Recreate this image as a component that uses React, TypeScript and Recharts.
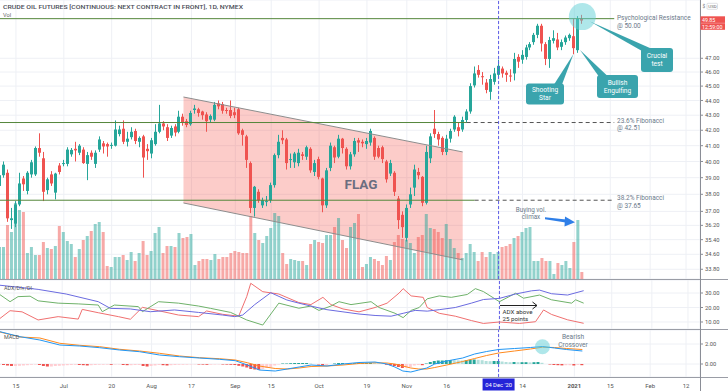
import React from 'react';
import {
  ComposedChart, Bar, Line, Area, XAxis, YAxis, CartesianGrid,
  ReferenceLine, ReferenceDot, Cell,
} from 'recharts';

// ---------- categories (trading days, incl. empty future slots) ----------
const DATES: string[] = [
  '2020-06-09','2020-06-10','2020-06-11','2020-06-12','2020-06-15','2020-06-16','2020-06-17','2020-06-18','2020-06-19','2020-06-22',
  '2020-06-23','2020-06-24','2020-06-25','2020-06-26','2020-06-29','2020-06-30','2020-07-01','2020-07-02','2020-07-06','2020-07-07',
  '2020-07-08','2020-07-09','2020-07-10','2020-07-13','2020-07-14','2020-07-15','2020-07-16','2020-07-17','2020-07-20','2020-07-21',
  '2020-07-22','2020-07-23','2020-07-24','2020-07-27','2020-07-28','2020-07-29','2020-07-30','2020-07-31','2020-08-03','2020-08-04',
  '2020-08-05','2020-08-06','2020-08-07','2020-08-10','2020-08-11','2020-08-12','2020-08-13','2020-08-14','2020-08-17','2020-08-18',
  '2020-08-19','2020-08-20','2020-08-21','2020-08-24','2020-08-25','2020-08-26','2020-08-27','2020-08-28','2020-08-31','2020-09-01',
  '2020-09-02','2020-09-03','2020-09-04','2020-09-08','2020-09-09','2020-09-10','2020-09-11','2020-09-14','2020-09-15','2020-09-16',
  '2020-09-17','2020-09-18','2020-09-21','2020-09-22','2020-09-23','2020-09-24','2020-09-25','2020-09-28','2020-09-29','2020-09-30',
  '2020-10-01','2020-10-02','2020-10-05','2020-10-06','2020-10-07','2020-10-08','2020-10-09','2020-10-12','2020-10-13','2020-10-14',
  '2020-10-15','2020-10-16','2020-10-19','2020-10-20','2020-10-21','2020-10-22','2020-10-23','2020-10-26','2020-10-27','2020-10-28',
  '2020-10-29','2020-10-30','2020-11-02','2020-11-03','2020-11-04','2020-11-05','2020-11-06','2020-11-09','2020-11-10','2020-11-11',
  '2020-11-12','2020-11-13','2020-11-16','2020-11-17','2020-11-18','2020-11-19','2020-11-20','2020-11-23','2020-11-24','2020-11-25',
  '2020-11-27','2020-11-30','2020-12-01','2020-12-02','2020-12-03','2020-12-04','2020-12-07','2020-12-08','2020-12-09','2020-12-10',
  '2020-12-11','2020-12-14','2020-12-15','2020-12-16','2020-12-17','2020-12-18','2020-12-21','2020-12-22','2020-12-23','2020-12-24',
  '2020-12-28','2020-12-29','2020-12-30','2020-12-31','2021-01-04','2021-01-05','2021-01-06','2021-01-07','2021-01-08','2021-01-11',
  '2021-01-12','2021-01-13','2021-01-14','2021-01-15','2021-01-19','2021-01-20','2021-01-21','2021-01-22','2021-01-25','2021-01-26',
  '2021-01-27','2021-01-28','2021-01-29','2021-02-01','2021-02-02','2021-02-03','2021-02-04','2021-02-05','2021-02-08','2021-02-09',
  '2021-02-10','2021-02-11','2021-02-12','2021-02-16','2021-02-17','2021-02-18',
];

// ---------- OHLC ----------
const OPEN = [
  38.5,39.15,39.3,36.5,36.3,37.4,38.95,38.2,39.2,39.2,
  40.85,40.2,38.25,39.2,38.1,39.75,39.85,39.85,40.45,40.8,
  40.55,40.75,39.85,40.55,39.85,40.75,41.15,41.1,41.0,41.0,
  41.75,42.1,41.25,41.55,41.95,41.25,41.6,40.8,40.5,41.1,
  41.9,42.45,42.2,41.65,42.25,41.9,42.9,42.6,42.4,43.35,
  43.4,43.25,43.05,42.7,42.7,43.8,43.75,43.35,43.35,43.2,
  43.4,42.0,41.6,39.9,37.2,38.15,37.35,37.55,37.65,38.55,
  40.4,41.5,41.4,40.1,39.95,39.9,40.45,40.3,40.8,39.35,
  40.15,38.95,37.35,39.6,40.9,40.3,41.45,40.8,39.7,40.45,
  41.35,41.25,41.1,41.2,41.5,40.85,40.9,40.0,39.25,39.3,
  37.75,36.8,35.5,37.4,38.4,39.35,39.05,37.5,40.2,42.1,
  41.75,41.5,40.6,41.45,42.05,42.2,42.05,42.68,43.25,45.05,
  46.15,45.7,45.25,44.6,45.3,45.8,46.25,45.95,45.75,45.9,
  47.1,46.9,47.1,47.8,48.2,48.75,49.45,48.05,46.95,48.3,
  48.4,47.85,48.2,48.5,48.65,47.6,50.0,
];
const HIGH = [
  39.3,40.0,39.5,37.2,37.6,39.3,39.1,39.4,40.1,40.95,
  41.8,40.6,39.0,39.4,39.3,39.9,40.1,40.9,40.85,41.25,
  41.1,40.9,40.6,40.7,40.7,41.6,41.3,41.2,41.2,42.65,
  42.3,42.65,41.9,42.2,42.1,41.6,41.7,41.1,41.5,42.4,
  43.7,42.6,42.4,42.3,42.4,43.3,43.1,42.75,43.3,43.7,
  43.5,43.3,43.2,43.05,43.9,44.0,43.9,43.5,44.0,43.5,
  43.5,42.1,41.7,40.0,38.5,38.3,37.8,37.9,38.7,40.5,
  41.7,42.0,41.5,40.5,40.6,40.8,40.6,41.0,40.9,40.1,
  40.3,39.0,39.6,41.2,41.0,41.7,41.5,40.9,40.6,41.5,
  41.5,41.4,41.5,42.1,41.6,41.0,41.0,40.1,40.1,39.4,
  37.9,37.0,37.4,38.4,39.8,39.6,39.1,41.0,41.8,43.35,
  41.9,41.6,41.7,42.1,43.0,42.5,42.9,43.4,45.2,46.4,
  46.5,46.0,45.5,45.8,46.3,46.9,46.4,46.1,46.2,47.4,
  47.3,47.6,48.0,48.2,48.9,49.6,49.6,48.2,48.6,49.1,
  48.9,48.4,48.7,48.85,50.0,50.2,50.3,
];
const LOW = [
  38.3,39.0,36.4,36.0,36.1,37.3,38.2,38.0,39.0,39.1,
  40.3,37.6,38.0,38.5,37.7,39.2,39.7,39.7,40.3,40.0,
  40.4,39.85,38.85,40.1,39.6,40.6,40.5,40.3,40.8,40.95,
  41.6,41.1,40.95,41.4,41.1,40.9,39.0,40.1,40.2,41.0,
  41.8,42.0,41.3,41.5,41.6,41.8,42.3,42.2,42.3,43.1,
  42.9,42.7,41.9,42.5,42.6,43.4,43.1,43.1,42.8,42.8,
  41.7,41.0,39.6,36.9,36.7,37.5,37.2,37.3,37.5,38.4,
  40.2,41.1,39.5,39.6,39.6,39.7,40.1,40.1,39.3,39.1,
  38.9,36.95,37.2,39.4,39.9,40.2,40.5,39.5,39.5,40.3,
  40.6,40.9,40.8,41.0,40.1,40.2,39.9,38.7,39.1,37.9,
  36.0,35.5,35.3,37.2,37.9,38.9,37.3,37.4,39.9,41.5,
  41.0,40.4,40.4,41.2,41.9,41.6,41.9,42.5,43.1,44.9,
  45.6,45.1,44.5,44.05,45.1,45.6,45.6,45.3,45.3,45.4,
  46.3,46.6,46.9,47.6,48.0,48.5,47.5,46.5,46.3,48.1,
  47.6,47.6,48.0,48.3,47.3,47.4,49.6,
];
const CLOSE = [
  39.15,39.8,36.6,36.6,37.4,38.65,38.6,39.3,39.95,40.85,
  40.55,38.15,38.9,38.65,39.25,39.35,39.9,40.75,40.73,40.7,
  41.0,39.9,40.4,40.3,40.55,41.4,40.95,40.95,41.05,42.05,
  42.05,41.25,41.45,41.9,41.3,41.5,40.25,40.65,41.35,41.9,
  42.45,42.25,41.5,42.15,41.85,42.9,42.5,42.35,43.15,43.45,
  43.15,43.0,42.6,42.95,43.7,43.6,43.3,43.3,42.95,43.0,
  41.8,41.7,40.1,37.2,38.45,37.65,37.65,37.6,38.55,40.4,
  41.25,41.35,39.9,40.15,40.5,40.55,40.35,40.9,39.45,39.9,
  39.05,37.35,39.45,41.0,40.25,41.45,40.85,39.7,40.45,41.3,
  41.2,41.15,41.3,41.95,40.3,40.3,40.15,38.9,39.9,38.15,
  36.5,36.1,37.2,38.0,39.5,39.15,37.5,40.6,41.6,41.75,
  41.4,40.6,41.45,41.95,42.9,41.95,42.68,43.25,45.0,45.9,
  45.8,45.65,44.73,45.5,45.9,46.45,45.9,45.8,45.7,46.95,
  46.75,47.25,47.8,48.05,48.75,49.45,48.1,46.95,48.36,48.5,
  47.8,48.2,48.55,48.75,47.75,50.0,49.85,
];
// volume, thousands of contracts
const VOLUME = [
  160,160,270,235,380,345,335,130,160,120,
  120,185,155,150,165,265,235,190,175,110,
  150,195,215,240,275,285,235,65,60,110,
  110,120,95,135,90,130,190,120,140,230,
  260,130,165,165,160,230,205,210,225,70,
  90,100,100,95,125,100,110,110,130,140,
  135,130,130,315,230,195,180,215,255,330,
  315,130,75,100,95,90,90,70,175,195,
  185,180,220,220,260,305,195,155,260,280,
  325,60,75,110,100,90,70,115,95,185,
  220,200,195,180,130,210,220,325,255,250,
  235,205,275,200,155,130,105,130,175,135,
  90,135,110,135,125,135,160,165,175,205,
  215,235,255,260,90,90,105,90,90,25,
  80,70,90,55,185,295,35,
];
const VOL_MAX = 1395;

// ---------- indicators (sampled points: [bar index, value]) ----------
const ADX_PTS: [number, number][] = [
  [0,35.5],[10,32.5],[17,29.3],[25,24],[28,19.4],[33,19],[38,17.1],[44,18.3],[50,16.6],[56,14.8],[59,13.7],[61,14.8],
  [64,22],[68,30.2],[72,25.2],[75,23],[78,21],[82,18.5],[86,17],[90,15.5],[94,14.5],[98,14],[101,16],[104,18],[107,17.5],
  [110,18.5],[114,20],[118,23],[121,25.5],[125,26.3],[129,29.3],[133,31.5],[135,32],[138,29.5],[142,28.6],[146,31.6],
];
const DIP_PTS: [number, number][] = [
  [0,29.8],[3,24],[5,27.5],[8,27.8],[10,24.6],[15,23],[20,22.5],[25,21.7],[26,17.1],[29,21.7],[35,20.6],[36,17.1],
  [40,24],[45,23],[50,21],[53,19.4],[58,16.6],[62,11.4],[66,7.9],[70,23],[75,19.5],[78,21],[80,18],[83,21],[85,24],
  [88,22],[93,24],[95,20],[99,16],[101,13],[103,18],[105,20],[107,26],[110,28],[113,27],[117,29],[119,33],[121,31],
  [125,24],[129,29.8],[131,26.4],[135,28.6],[138,25.3],[143,23],[144,25.3],[146,23],
];
const DIM_PTS: [number, number][] = [
  [0,11.4],[3,17.8],[6,17],[10,11.4],[15,13.7],[20,12],[21,18.7],[25,16.4],[30,13.7],[33,11.9],[36,20.1],[40,17.8],
  [45,14.8],[50,13.7],[52,17.6],[56,15.3],[60,14],[62,27.5],[63,36.7],[66,30.9],[70,29.3],[75,23.4],[78,22],[81,27],
  [83,22],[86,19],[90,17],[94,20],[97,23],[100,30],[101,33],[103,28],[106,27],[107,20],[110,16],[114,14],[118,11],
  [121,9],[125,10],[130,9],[134,10.2],[136,18.3],[138,15.2],[142,11.5],[146,9.1],
];
const MACD_PTS: [number, number][] = [
  [0,3.23],[5,2.73],[10,2.4],[15,1.9],[20,1.8],[25,1.63],[30,1.4],[35,1.23],[40,0.9],[45,0.73],[50,0.6],[55,0.47],
  [59,0.33],[62,-0.1],[65,-0.6],[69,-0.7],[72,-0.5],[75,-0.3],[78,-0.1],[82,-0.2],[86,0.0],[90,0.15],[94,0.2],[97,0.0],
  [99,-0.3],[101,-0.7],[103,-0.8],[105,-0.6],[107,-0.4],[109,0.0],[112,0.3],[116,0.6],[119,1.0],[122,1.25],[125,1.45],
  [129,1.55],[133,1.65],[136,1.75],[139,1.6],[142,1.45],[146,1.3],
];
const SIGNAL_PTS: [number, number][] = [
  [0,3.2],[5,2.7],[10,2.6],[15,2.07],[20,1.87],[25,1.73],[30,1.47],[35,1.3],[40,1.07],[45,0.8],[50,0.63],[55,0.53],
  [59,0.4],[62,0.13],[65,-0.2],[69,-0.45],[72,-0.5],[75,-0.4],[78,-0.25],[82,-0.2],[86,-0.1],[90,0.05],[94,0.12],[97,0.1],
  [99,0.0],[101,-0.2],[103,-0.4],[105,-0.5],[107,-0.5],[109,-0.35],[112,-0.1],[116,0.25],[119,0.55],[122,0.85],[125,1.1],
  [129,1.3],[133,1.5],[136,1.68],[139,1.65],[142,1.55],[146,1.45],
];
const HIST = [
  -0.05,-0.1,-0.15,-0.2,-0.2, -0.18,-0.15,-0.12,-0.08,-0.05, -0.1,-0.2,-0.25,-0.25,-0.2,
  -0.18,-0.15,-0.12,-0.1,-0.08, -0.1,-0.12,-0.15,-0.12,-0.1, -0.08,-0.08,-0.07,-0.08,-0.05,
  -0.05,-0.1,-0.12,-0.12,-0.1, -0.1,-0.2,-0.25,-0.2,-0.15, -0.1,-0.12,-0.15,-0.12,-0.1,
  -0.08,-0.08,-0.07,-0.05,-0.04, -0.05,-0.06,-0.08,-0.07,-0.05, -0.04,-0.05,-0.06,-0.08,-0.1,
  -0.18,-0.25,-0.35,-0.5,-0.55, -0.58,-0.5,-0.4,-0.3,-0.15, -0.05,0.05,0.05,0.08,0.1,
  0.1,0.1,0.1,0.05,0.0, -0.05,-0.15,-0.1,0.0,0.05, 0.1,0.1,0.05,0.05,0.08,
  0.1,0.1,0.1,0.12,0.08, 0.05,0.0,-0.08,-0.12,-0.2, -0.3,-0.4,-0.35,-0.3,-0.15,
  -0.1,-0.12,0.05,0.2,0.3, 0.35,0.35,0.38,0.4,0.38, 0.36,0.35,0.38,0.42,0.45,
  0.42,0.38,0.3,0.28,0.3, 0.3,0.25,0.2,0.18,0.2, 0.18,0.18,0.18,0.16,0.18,
  0.2,0.12,0.0,-0.05,-0.1, -0.12,-0.14,-0.12,-0.12,-0.15,-0.1,-0.12,
];

// ---------- levels, flag, ticks ----------
const LEVELS = [50.0, 42.51, 37.65];
const LEVEL_SOLID_END = [154, 117, 119];
const LEVEL_DASH_END = 154;
const FLAG_IDX = [46, 116];
const FLAG_TOP = [44.24, 40.6];
const FLAG_BOTTOM = [37.49, 34.3];
const CROSS_IDX = 125;
const PRICE_TICKS = [33.8, 34.6, 35.4, 36.2, 37, 38, 39, 40, 41, 42, 43, 44, 45, 46, 47];
const ADX_TICKS = [10, 20, 30];
const MACD_TICKS = [0, 2];
const X_TICKS = ['2020-06-15','2020-07-01','2020-07-20','2020-08-03','2020-08-17','2020-09-01','2020-09-15','2020-10-01',
  '2020-10-19','2020-11-02','2020-11-16','2020-12-04','2020-12-14','2021-01-04','2021-01-15','2021-02-01','2021-02-12'];
const X_TICK_TEXT = ['15','Jul','20','Aug','17','Sep','15','Oct','19','Nov','16',"04 Dec '20",'14','2021','15','Feb','12'];

const UP = '#26a69a';
const DN = '#ef5350';
const FONT = 'Roboto, "Liberation Sans", sans-serif';

const toMap = (pts: [number, number][]) => new Map(pts.map(([i, v]) => [i, v]));
const mAdx = toMap(ADX_PTS), mDip = toMap(DIP_PTS), mDim = toMap(DIM_PTS), mMacd = toMap(MACD_PTS), mSig = toMap(SIGNAL_PTS);

const ROWS = DATES.map((d, i) => {
  const has = i < OPEN.length;
  let flag: number[] | null = null;
  if (i === FLAG_IDX[0]) flag = [FLAG_BOTTOM[0], FLAG_TOP[0]];
  if (i === FLAG_IDX[1]) flag = [FLAG_BOTTOM[1], FLAG_TOP[1]];
  return {
    d,
    hl: has ? [LOW[i], HIGH[i]] : null,
    o: has ? OPEN[i] : null,
    h: has ? HIGH[i] : null,
    l: has ? LOW[i] : null,
    c: has ? CLOSE[i] : null,
    vol: has ? VOLUME[i] : null,
    hist: has ? HIST[i] : null,
    flag,
    adx: mAdx.has(i) ? mAdx.get(i) : null,
    dip: mDip.has(i) ? mDip.get(i) : null,
    dim: mDim.has(i) ? mDim.get(i) : null,
    macd: mMacd.has(i) ? mMacd.get(i) : null,
    sig: mSig.has(i) ? mSig.get(i) : null,
  };
});

const histColor = (i: number) => {
  const v = HIST[i];
  const p = i > 0 ? HIST[i - 1] : v;
  if (v >= 0) return v >= p ? '#26a69a' : '#b2dfdb';
  return v < p ? '#ef5350' : '#ffcdd2';
};

const Candle = (props: any) => {
  const { x, y, width, height, payload } = props;
  if (!payload || payload.o == null) return null;
  const { o, c, h, l } = payload;
  const lh = Math.log(h);
  const ll = Math.log(l);
  const span = lh - ll || 1;
  const py = (p: number) => y + (height * (lh - Math.log(p))) / span;
  const color = c >= o ? UP : DN;
  const cx = Math.round(x + width / 2 - 0.5) + 0.5;
  const top = py(Math.max(o, c));
  const bot = py(Math.min(o, c));
  return (
    <g>
      <line x1={cx} x2={cx} y1={y} y2={y + height} stroke={color} strokeWidth={1} />
      <rect x={cx - 1.5} y={top} width={3} height={Math.max(1, bot - top)} fill={color} />
    </g>
  );
};

const XTick = (props: any) => {
  const { x, y, payload } = props;
  const k = X_TICKS.indexOf(payload.value);
  const label = X_TICK_TEXT[k] ?? '';
  if (payload.value === DATES[CROSS_IDX]) {
    return (
      <g>
        <rect x={x - 16} y={y + 1.5} width={32} height={12} fill="#2424d8" />
        <text x={x} y={y + 9.7} textAnchor="middle" fontSize={5.8} fill="#ffffff" fontFamily={FONT}>{label}</text>
      </g>
    );
  }
  return (
    <text x={x} y={y + 10.6} textAnchor="middle" fontSize={6} fill="#555" fontFamily={FONT}
      fontWeight={label === '2021' ? 700 : 400}>{label}</text>
  );
};

const W = 730;
const AXW = 28;
const GRID = '#eef0f5';
const CROSS = '#5e5ce6';
const tickStyle = { fontSize: 5.8, fill: '#555', fontFamily: FONT };

const Callout = ({ x, y, w, h, lines, tail }: { x: number; y: number; w: number; h: number; lines: string[]; tail: string }) => (
  <g>
    <polygon points={tail} fill="#3aa4ad" />
    <rect x={x} y={y} width={w} height={h} rx={3} fill="#3aa4ad" />
    {lines.map((t, i) => (
      <text key={i} x={x + w / 2} y={y + h / 2 + (i - (lines.length - 1) / 2) * 8.2 + 2.3} textAnchor="middle"
        fontSize={6.6} fill="#ffffff" fontFamily={FONT}>{t}</text>
    ))}
  </g>
);

export default function App() {
  const levelLines = LEVELS.map((lv, k) => (
    <ReferenceLine key={'s' + k} xAxisId="m" yAxisId="p" ifOverflow="visible"
      segment={[{ x: DATES[0], y: lv }, { x: DATES[LEVEL_SOLID_END[k]], y: lv }]}
      stroke="#55873b" strokeWidth={1} />
  ));
  const levelDash = LEVELS.map((lv, k) => LEVEL_SOLID_END[k] < LEVEL_DASH_END ? (
    <ReferenceLine key={'d' + k} xAxisId="m" yAxisId="p" ifOverflow="visible"
      segment={[{ x: DATES[LEVEL_SOLID_END[k]], y: lv }, { x: DATES[LEVEL_DASH_END], y: lv }]}
      stroke="#555" strokeWidth={1} strokeDasharray="4 3" />
  ) : null);

  return (
    <div style={{ position: 'absolute', left: 0, top: 0, width: 728, height: 391, overflow: 'hidden', background: '#fff', fontFamily: FONT }}>
      {/* main price pane */}
      <div style={{ position: 'absolute', left: -2, top: 0 }}>
        <ComposedChart width={W} height={279} data={ROWS} margin={{ top: 0, right: 0, bottom: 0, left: 0 }}>
          <CartesianGrid xAxisId="m" yAxisId="p" stroke={GRID} strokeWidth={1} />
          <XAxis xAxisId="m" dataKey="d" hide ticks={X_TICKS} interval={0} />
          <XAxis xAxisId="v" dataKey="d" hide />
          <YAxis yAxisId="p" orientation="right" width={AXW} scale="log" domain={[33.29, 51.48]} allowDataOverflow
            ticks={PRICE_TICKS} tickFormatter={(v: number) => v.toFixed(2)} axisLine={false}
            tickLine={{ stroke: '#8a8d96' }} tickSize={3} tickMargin={2} tick={tickStyle} interval={0} />
          <YAxis yAxisId="v" hide domain={[0, VOL_MAX]} />
          <Area xAxisId="m" yAxisId="p" dataKey="flag" type="linear" connectNulls stroke="none"
            fill="#f44336" fillOpacity={0.27} isAnimationActive={false} />
          <ReferenceLine xAxisId="m" yAxisId="p" ifOverflow="visible"
            segment={[{ x: DATES[FLAG_IDX[0]], y: FLAG_TOP[0] }, { x: DATES[FLAG_IDX[1]], y: FLAG_TOP[1] }]}
            stroke="#8d8d8d" strokeWidth={1} />
          <ReferenceLine xAxisId="m" yAxisId="p" ifOverflow="visible"
            segment={[{ x: DATES[FLAG_IDX[0]], y: FLAG_BOTTOM[0] }, { x: DATES[FLAG_IDX[1]], y: FLAG_BOTTOM[1] }]}
            stroke="#8d8d8d" strokeWidth={1} />
          <Bar xAxisId="v" yAxisId="v" dataKey="vol" barSize={3} isAnimationActive={false}>
            {ROWS.map((r, i) => (
              <Cell key={i} fill={r.c != null && r.o != null && r.c >= r.o ? 'rgba(38,166,154,0.5)' : 'rgba(239,83,80,0.5)'} />
            ))}
          </Bar>
          {levelLines}
          {levelDash}
          <ReferenceLine xAxisId="m" yAxisId="p" x={DATES[CROSS_IDX]} stroke={CROSS} strokeDasharray="3 2" />
          <Bar xAxisId="m" yAxisId="p" dataKey="hl" barSize={3} shape={<Candle />} isAnimationActive={false} />
          <ReferenceDot xAxisId="m" yAxisId="p" x={DATES[146]} y={50.16} r={13.5} fill="#5fd0d6" fillOpacity={0.5}
            stroke="none" ifOverflow="visible" />
        </ComposedChart>
      </div>

      {/* ADX pane */}
      <div style={{ position: 'absolute', left: -2, top: 280 }}>
        <ComposedChart width={W} height={49} data={ROWS} margin={{ top: 0, right: 0, bottom: 0, left: 0 }}>
          <CartesianGrid stroke={GRID} strokeWidth={1} />
          <XAxis dataKey="d" hide ticks={X_TICKS} interval={0} />
          <YAxis orientation="right" width={AXW} domain={[5.17, 38.97]} allowDataOverflow ticks={ADX_TICKS}
            tickFormatter={(v: number) => v.toFixed(2)} axisLine={false} tickLine={{ stroke: '#8a8d96' }}
            tickSize={3} tickMargin={2} tick={tickStyle} interval={0} />
          <ReferenceLine x={DATES[CROSS_IDX]} stroke={CROSS} strokeDasharray="3 2" />
          <Line dataKey="dim" type="linear" stroke="#f07070" strokeWidth={1} dot={false} connectNulls isAnimationActive={false} />
          <Line dataKey="dip" type="linear" stroke="#6fb26a" strokeWidth={1} dot={false} connectNulls isAnimationActive={false} />
          <Line dataKey="adx" type="linear" stroke="#6b6be0" strokeWidth={1} dot={false} connectNulls isAnimationActive={false} />
        </ComposedChart>
      </div>

      {/* MACD pane */}
      <div style={{ position: 'absolute', left: -2, top: 330 }}>
        <ComposedChart width={W} height={61} data={ROWS} margin={{ top: 0, right: 0, bottom: 0, left: 0 }}>
          <CartesianGrid stroke={GRID} strokeWidth={1} />
          <XAxis dataKey="d" ticks={X_TICKS} interval={0} height={14} axisLine={false} tickLine={false}
            tickSize={0} tickMargin={0} tick={<XTick />} />
          <YAxis orientation="right" width={AXW} domain={[-1.3, 3.4]} allowDataOverflow ticks={MACD_TICKS}
            tickFormatter={(v: number) => v.toFixed(2)} axisLine={false} tickLine={{ stroke: '#8a8d96' }}
            tickSize={3} tickMargin={2} tick={tickStyle} interval={0} />
          <ReferenceLine x={DATES[CROSS_IDX]} stroke={CROSS} strokeDasharray="3 2" />
          <Bar dataKey="hist" barSize={3} isAnimationActive={false}>
            {ROWS.map((r, i) => (
              <Cell key={i} fill={i < HIST.length ? histColor(i) : 'none'} />
            ))}
          </Bar>
          <Line dataKey="sig" type="linear" stroke="#ff8a1e" strokeWidth={1} dot={false} connectNulls isAnimationActive={false} />
          <Line dataKey="macd" type="linear" stroke="#2196f3" strokeWidth={1} dot={false} connectNulls isAnimationActive={false} />
          <ReferenceDot x={DATES[136]} y={1.73} r={7.5} fill="#5fd0d6" fillOpacity={0.5} stroke="none" ifOverflow="visible" />
        </ComposedChart>
      </div>

      {/* annotation layer */}
      <svg width={728} height={391} style={{ position: 'absolute', left: 0, top: 0, pointerEvents: 'none' }}>
        <line x1={0} x2={728} y1={279.5} y2={279.5} stroke="#9a9da6" strokeWidth={1} />
        <line x1={0} x2={728} y1={329.5} y2={329.5} stroke="#9a9da6" strokeWidth={1} />
        <line x1={0} x2={728} y1={377.5} y2={377.5} stroke="#9a9da6" strokeWidth={1} />
        <line x1={700.5} x2={700.5} y1={0} y2={391} stroke="#8a8d96" strokeWidth={1} />

        <text x={3} y={8.8} fontSize={5.7} fill="#4a4d57" fontWeight={500} fontFamily={FONT}
          textLength={240} lengthAdjust="spacingAndGlyphs">CRUDE OIL FUTURES [CONTINUOUS: NEXT CONTRACT IN FRONT], 1D, NYMEX</text>
        <text x={3} y={17} fontSize={5.7} fill="#666" fontFamily={FONT}>Vol</text>
        <text x={4} y={290} fontSize={5.4} fill="#555" fontFamily={FONT}>ADX/DI+/DI-</text>
        <text x={4} y={339.3} fontSize={5.4} fill="#555" fontFamily={FONT}>MACD</text>

        <text x={361} y={189.3} textAnchor="middle" fontSize={13.5} fontWeight={700} fill="#6b6e80" fontFamily={FONT}>FLAG</text>

        <g fontSize={6.5} fill="#6b7a8a" fontFamily={FONT}>
          <text x={617} y={20}>Psychological Resistance</text>
          <text x={617} y={27.8}>@ 50.00</text>
          <text x={617} y={122.5}>23.6% Fibonacci</text>
          <text x={617} y={130.3}>@ 42.51</text>
          <text x={617} y={200.3}>38.2% Fibonacci</text>
          <text x={617} y={208.1}>@ 37.65</text>
        </g>

        <Callout x={526} y={83.5} w={38} h={21} lines={['Shooting', 'Star']} tail="554,84.5 562,84.5 573.5,54" />
        <Callout x={597} y={75} w={41} h={23} lines={['Bullish', 'Engulfing']} tail="598.5,76 607,75.5 580,50" />
        <Callout x={641} y={48} w={32} h={24} lines={['Crucial', 'test']} tail="642,51 651,48.5 590,21.5" />

        <g fontSize={6.3} fill="#6b7a8a" fontFamily={FONT} textAnchor="middle">
          <text x={531} y={211.5}>Buying vol.</text>
          <text x={531} y={219}>climax</text>
        </g>
        <polygon points="545,217.2 566,219.6 565.6,222.6 545,219.2" fill="#2f7fe8" />
        <polygon points="565,216.5 575,222.3 564.5,226.5" fill="#2f7fe8" />

        <line x1={500} x2={537} y1={305.5} y2={305.5} stroke="#222" strokeWidth={1} />
        <polyline points="532.5,302 537,305.5 532.5,309" fill="none" stroke="#222" strokeWidth={1} />
        <g fontSize={6.2} fill="#333" fontFamily={FONT}>
          <text x={502.5} y={313.6}>ADX above</text>
          <text x={502.5} y={321}>25 points</text>
        </g>
        <g fontSize={6.6} fill="#6b7a8a" fontFamily={FONT} textAnchor="middle">
          <text x={573} y={339.2}>Bearish</text>
          <text x={573} y={347}>Crossover</text>
        </g>

        <rect x={700.5} y={16.3} width={24.5} height={6.6} fill={DN} />
        <text x={702} y={21.6} fontSize={5.3} fill="#fff" fontFamily={FONT}>49.85</text>
        <rect x={700.5} y={23.2} width={24.5} height={6.6} fill={DN} />
        <text x={702} y={28.5} fontSize={5.3} fill="#fff" fontFamily={FONT}>12:59:00</text>
        <text x={702.5} y={8.2} fontSize={4.8} fill="#777" fontFamily={FONT}>$</text>
        <rect x={707} y={3.3} width={10.5} height={6} fill="#fff" stroke="#c8cad0" strokeWidth={0.6} rx={1} />
        <text x={708.3} y={7.9} fontSize={4.4} fill="#666" fontFamily={FONT}>USD</text>
      </svg>
    </div>
  );
}
